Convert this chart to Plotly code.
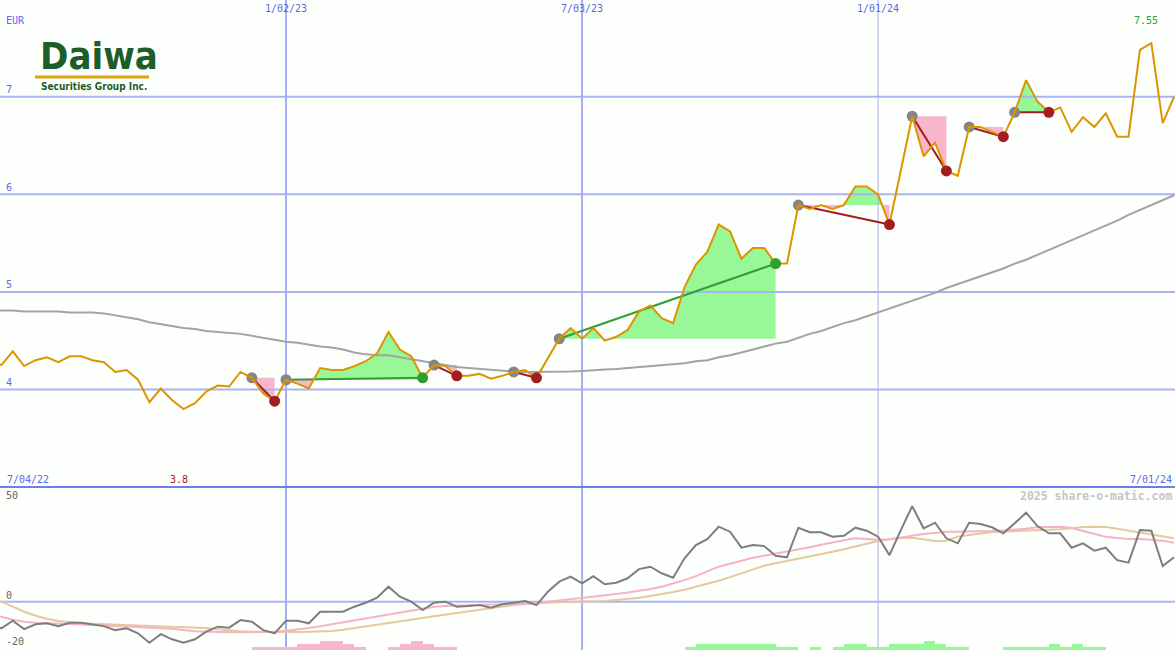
import pandas as pd
import plotly.graph_objects as go

# ---------------- data ----------------
dates = pd.date_range("2022-07-04", periods=105, freq="7D")

price = [4.30, 4.25, 4.39, 4.24, 4.30, 4.33, 4.28, 4.34, 4.34, 4.30,
         4.28, 4.18, 4.20, 4.10, 3.87, 4.01, 3.89, 3.80, 3.86, 3.98,
         4.04, 4.03, 4.18, 4.12, 3.96, 3.88, 4.10, 4.06, 4.01, 4.22,
         4.20, 4.20, 4.24, 4.29, 4.37, 4.59, 4.41, 4.34, 4.12, 4.25,
         4.24, 4.14, 4.14, 4.16, 4.11, 4.14, 4.18, 4.20, 4.12, 4.32,
         4.52, 4.63, 4.52, 4.63, 4.50, 4.54, 4.61, 4.80, 4.86, 4.73,
         4.68, 5.05, 5.28, 5.41, 5.69, 5.62, 5.34, 5.45, 5.45, 5.29,
         5.29, 5.89, 5.85, 5.89, 5.85, 5.89, 6.08, 6.08, 6.00, 5.69,
         6.24, 6.80, 6.39, 6.53, 6.24, 6.19, 6.69, 6.69, 6.64, 6.59,
         6.84, 7.17, 6.95, 6.84, 6.89, 6.64, 6.79, 6.69, 6.83, 6.59,
         6.59, 7.48, 7.55, 6.73, 7.00]

moving_avg = [4.81, 4.81, 4.81, 4.80, 4.80, 4.80, 4.80, 4.79, 4.79, 4.79,
              4.78, 4.76, 4.74, 4.72, 4.69, 4.67, 4.65, 4.63, 4.62, 4.60,
              4.59, 4.58, 4.57, 4.55, 4.53, 4.51, 4.49, 4.48, 4.46, 4.44,
              4.43, 4.41, 4.38, 4.36, 4.35, 4.35, 4.33, 4.31, 4.29, 4.27,
              4.25, 4.23, 4.22, 4.21, 4.20, 4.19, 4.185, 4.18, 4.18, 4.18,
              4.18, 4.185, 4.19, 4.20, 4.205, 4.21, 4.22, 4.23, 4.235, 4.245,
              4.26, 4.27, 4.29, 4.30, 4.33, 4.35, 4.38, 4.41, 4.44, 4.47,
              4.49, 4.53, 4.57, 4.60, 4.64, 4.68, 4.71, 4.75, 4.79, 4.83,
              4.87, 4.91, 4.95, 4.99, 5.04, 5.08, 5.12, 5.16, 5.20, 5.24,
              5.29, 5.33, 5.38, 5.43, 5.48, 5.53, 5.58, 5.63, 5.68, 5.73,
              5.79, 5.84, 5.89, 5.94, 5.99]

oscillator = [-11.0, -13.3, -9.5, -13.7, -11.3, -10.8, -12.2, -10.5, -10.5, -11.3,
              -12.2, -14.2, -13.3, -15.8, -20.5, -16.2, -18.8, -20.5, -18.8, -15.0,
              -12.5, -13.0, -9.2, -10.0, -14.2, -15.8, -9.5, -9.5, -10.8, -5.0,
              -5.0, -5.0, -2.5, -0.5, 2.0, 7.5, 2.5, 0.0, -4.2, -0.5,
              0.0, -2.5, -2.2, -1.7, -3.0, -1.3, -0.5, 0.3, -1.7, 5.0,
              10.0, 12.5, 9.2, 12.8, 8.7, 9.5, 11.7, 16.3, 17.5, 14.2,
              12.0, 21.7, 28.3, 31.3, 37.5, 35.0, 27.0, 28.3, 27.8, 23.0,
              22.2, 37.0, 34.7, 34.7, 32.5, 33.0, 37.0, 35.5, 32.5, 23.3,
              35.8, 47.8, 36.7, 39.5, 31.7, 29.2, 39.5, 38.8, 37.2, 34.2,
              39.2, 44.5, 37.8, 34.2, 34.2, 27.0, 29.2, 25.5, 27.0, 20.8,
              19.5, 35.8, 35.5, 17.8, 22.2]

signal_fast = [-7.0, -7.5, -9.0, -10.0, -10.5, -10.8, -11.0, -11.2, -11.4, -11.6,
               -11.8, -12.0, -12.3, -12.7, -13.0, -13.2, -13.5, -14.2, -14.8, -15.0,
               -15.2, -15.3, -15.3, -15.2, -15.1, -15.0, -14.5, -14.0, -13.2, -12.3,
               -11.3, -10.4, -9.5, -8.4, -7.5, -6.5, -5.5, -4.5, -3.5, -2.5,
               -2.2, -2.0, -1.7, -1.5, -1.3, -1.2, -1.0, -0.9, -0.8, 0.0,
               0.6, 1.2, 1.8, 2.5, 3.2, 3.9, 4.6, 5.4, 6.3, 7.5,
               9.0, 10.8, 12.8, 15.0, 17.5, 19.0, 20.5, 22.0, 23.0, 24.0,
               25.0, 26.0, 27.2, 28.5, 29.7, 30.7, 31.7, 31.5, 31.0, 31.2,
               32.2, 33.0, 33.8, 34.5, 35.0, 35.0, 35.0, 35.0, 35.3, 35.6,
               35.9, 36.5, 37.2, 37.5, 37.5, 36.8, 35.3, 34.0, 32.5, 31.8,
               31.3, 31.3, 31.0, 30.5, 29.5]

signal_slow = [1.0, 0.0, -2.5, -5.0, -7.0, -8.5, -9.6, -10.2, -10.7, -11.0,
               -11.3, -11.5, -11.7, -11.9, -12.1, -12.3, -12.5, -12.7, -12.8, -13.2,
               -13.8, -14.4, -14.8, -15.0, -15.1, -15.2, -15.2, -15.1, -15.0, -14.9,
               -14.6, -14.0, -13.2, -12.5, -11.7, -10.8, -10.0, -9.2, -8.2, -7.3,
               -6.5, -5.6, -4.8, -3.9, -3.0, -2.2, -1.6, -1.1, -0.7, -0.4,
               -0.2, 0.0, 0.0, 0.0, 0.3, 0.8, 1.3, 2.0, 2.8, 3.7,
               4.8, 6.0, 7.4, 9.0, 10.5, 12.3, 14.2, 16.3, 18.0, 19.2,
               20.3, 21.5, 22.6, 23.8, 25.0, 26.2, 27.6, 29.0, 30.3, 31.2,
               31.8, 32.0, 31.3, 30.3, 30.5, 32.5, 33.3, 34.2, 34.8, 35.1,
               35.4, 35.6, 35.8, 36.0, 36.2, 36.8, 37.3, 37.5, 37.3, 36.5,
               35.5, 34.5, 33.5, 32.6, 31.7]

# trend strength histogram: positive = up (green), negative = down (pink)
trend_hist = [0, 0, 0, 0, 0, 0, 0, 0, 0, 0,
              0, 0, 0, 0, 0, 0, 0, 0, 0, 0,
              0, 0, 0, -1, -1, -1, -1, -2, -2, -3,
              -3, -2, -1, 0, 0, -1, -2, -3, -2, -1,
              -1, 0, 0, 0, 0, 0, 0, 0, 0, 0,
              0, 0, 0, 0, 0, 0, 0, 0, 0, 0,
              0, 1, 2, 2, 2, 2, 2, 2, 2, 1,
              1, 0, 1, 0, 1, 2, 2, 1, 1, 2,
              2, 2, 3, 2, 1, 1, 0, 0, 0, 1,
              1, 1, 1, 2, 1, 2, 1, 1, 0, 0,
              0, 0, 0, 0, 0]

# trend patterns: (start week index, end week index, direction)
pattern_start = [23, 26, 39, 46, 50, 71, 81, 86, 90]
pattern_end = [25, 38, 41, 48, 69, 79, 84, 89, 93]
pattern_dir = ["down", "up", "down", "down", "up", "down", "down", "down", "down"]

price_ticks = [4, 5, 6, 7]
osc_ticks = [50, 0, -20]
grid_dates = ["2023-01-02", "2023-07-03", "2024-01-01"]
currency = "EUR"

# ---------------- styling ----------------
W, H = 1175, 650
BG = "#fdfffd"
GRID = "#a8b4f2"
BLUE_TXT = "#5a6ae6"
GREEN_FILL = "#98f898"
PINK_FILL = "#f8b6cc"
UP = "#2f9f2f"
DOWN = "#a31f1f"
ORANGE = "#de9400"
MONO = "DejaVu Sans Mono, monospace"
NARROW = "Liberation Sans Narrow, DejaVu Sans Condensed, Arial Narrow, sans-serif"

week = pd.Timedelta(days=7)
x_range = [dates[0] + 0.878 * week, dates[0] + 104.08 * week]
split = 163 / H
price_range = [3.001, 7.991]
osc_range = [-24.15, 57.35]


def fmt_date(d):
    d = pd.Timestamp(d)
    return f"{d.month}/{d.day:02d}/{d.year % 100:02d}"


fig = go.Figure()


def add(tr, lower=False):
    if lower:
        tr.update(xaxis="x2", yaxis="y2")
    fig.add_trace(tr)


# ---- fills of trend patterns ----
for s, e in zip(pattern_start, pattern_end):
    lvl = price[s]
    pts = []
    for i in range(s, e):
        p0, p1 = price[i], price[i + 1]
        pts.append((dates[i], p0))
        if (p0 - lvl) * (p1 - lvl) < 0:
            f = (lvl - p0) / (p1 - p0)
            pts.append((dates[i] + f * week, lvl))
    pts.append((dates[e], price[e]))
    tx = [q[0] for q in pts]
    up = [max(q[1], lvl) for q in pts]
    dn = [min(q[1], lvl) for q in pts]
    for ys, col in ((up, GREEN_FILL), (dn, PINK_FILL)):
        add(go.Scatter(x=[tx[0], tx[-1]], y=[lvl, lvl], mode="lines",
                       line=dict(width=0), hoverinfo="skip", showlegend=False))
        add(go.Scatter(x=tx, y=ys, mode="lines", line=dict(width=0),
                       fill="tonexty", fillcolor=col, hoverinfo="skip", showlegend=False))

# ---- grid lines (drawn above fills) ----
for v in price_ticks:
    add(go.Scatter(x=x_range, y=[v, v], mode="lines",
                   line=dict(color=GRID, width=2), hoverinfo="skip", showlegend=False))
add(go.Scatter(x=x_range, y=[0, 0], mode="lines",
               line=dict(color=GRID, width=2), hoverinfo="skip", showlegend=False), lower=True)
for k, d in enumerate(grid_dates):
    wv = 2 if k < 2 else 1
    cv = "#a4aef4" if k < 2 else "#a8b0dc"
    add(go.Scatter(x=[d, d], y=price_range, mode="lines",
                   line=dict(color=cv, width=wv), hoverinfo="skip", showlegend=False))
    add(go.Scatter(x=[d, d], y=osc_range, mode="lines",
                   line=dict(color=cv, width=wv), hoverinfo="skip", showlegend=False), lower=True)

# ---- moving average ----
add(go.Scatter(x=dates, y=moving_avg, mode="lines",
               line=dict(color="#a3a3a3", width=2), hoverinfo="skip", showlegend=False))

# ---- trend lines ----
for s, e, dr in zip(pattern_start, pattern_end, pattern_dir):
    add(go.Scatter(x=[dates[s], dates[e]], y=[price[s], price[e]], mode="lines",
                   line=dict(color=UP if dr == "up" else DOWN, width=2),
                   hoverinfo="skip", showlegend=False))

# start dots
add(go.Scatter(x=[dates[s] for s in pattern_start], y=[price[s] for s in pattern_start],
               mode="markers", marker=dict(color="#858585", size=11),
               hoverinfo="skip", showlegend=False))

# ---- price ----
add(go.Scatter(x=dates, y=price, mode="lines",
               line=dict(color=ORANGE, width=2), hoverinfo="skip", showlegend=False))

# end dots
add(go.Scatter(x=[dates[e] for e in pattern_end], y=[price[e] for e in pattern_end],
               mode="markers",
               marker=dict(color=[UP if d == "up" else DOWN for d in pattern_dir], size=11),
               hoverinfo="skip", showlegend=False))

# ---- lower panel ----
add(go.Bar(x=dates, y=[abs(v) for v in trend_hist], base=0, offset=0,
           width=week.total_seconds() * 1000,
           marker=dict(color=[GREEN_FILL if v > 0 else PINK_FILL for v in trend_hist],
                       line=dict(width=0)),
           xaxis="x2", yaxis="y3", hoverinfo="skip", showlegend=False))
add(go.Scatter(x=dates, y=signal_slow, mode="lines",
               line=dict(color="#e3c99c", width=2), hoverinfo="skip", showlegend=False), lower=True)
add(go.Scatter(x=dates, y=signal_fast, mode="lines",
               line=dict(color="#f7b2c8", width=2), hoverinfo="skip", showlegend=False), lower=True)
add(go.Scatter(x=dates, y=oscillator, mode="lines",
               line=dict(color="#7e7e7e", width=2), hoverinfo="skip", showlegend=False), lower=True)

# ---------------- annotations ----------------
ann = []


def text(x, y, s, color, size=10, xanchor="left", xref="paper", yref="paper",
         yshift=0, xshift=0, family=MONO, yanchor="middle"):
    ann.append(dict(x=x, y=y, xref=xref, yref=yref, text=s, showarrow=False,
                    xanchor=xanchor, yanchor=yanchor, xshift=xshift, yshift=yshift,
                    font=dict(family=family, size=size, color=color)))


text(4 / W, 1 - 21 / H, currency, BLUE_TXT)
for v in price_ticks:
    text(4 / W, v, str(v), BLUE_TXT, yref="y", yshift=7)
for v in osc_ticks:
    text(4 / W, v, str(v), "#666666", yref="y2", yshift=6 if v >= 0 else 0)
for d in grid_dates:
    text(d, 1 - 8 / H, fmt_date(d), BLUE_TXT, xanchor="center", xref="x")
text(5 / W, split + 8 / H, fmt_date(dates[0]), BLUE_TXT)
text(1174 / W, split + 8 / H, fmt_date(dates[-1]), BLUE_TXT, xanchor="right")
imin = price.index(min(price))
imax = price.index(max(price))
text(dates[imin], split + 8 / H, f"{price[imin]:.1f}", "#a51c1c", xanchor="center",
     xref="x", xshift=-5)
text(dates[imax], 1 - 21 / H, f"{price[imax]:.2f}", "#2f9f2f", xanchor="center",
     xref="x", xshift=-5)
text(1174 / W, split - 9 / H, "<b>2025 share-o-matic.com</b>", "#c6c6c6", size=11.5,
     xanchor="right")

# logo
text(38 / W, 1 - 56 / H, "<b>Daiwa</b>", "#1d5c2b", size=38, family=NARROW)
text(39 / W, 1 - 86 / H, "<b>Securities Group Inc.</b>", "#1d5c2b", size=10, family=NARROW)

shapes = [
    dict(type="line", xref="paper", yref="paper", x0=35 / W, x1=149 / W,
         y0=1 - 77 / H, y1=1 - 77 / H, line=dict(color="#e0a010", width=3)),
    dict(type="line", xref="paper", yref="paper", x0=0, x1=1, y0=split, y1=split,
         line=dict(color="#6e7ee8", width=2)),
]

fig.update_layout(
    width=W, height=H, margin=dict(l=0, r=0, t=0, b=0),
    paper_bgcolor=BG, plot_bgcolor=BG, showlegend=False, bargap=0,
    xaxis=dict(domain=[0, 1], range=x_range, type="date", showgrid=False,
               showticklabels=False, zeroline=False, anchor="y"),
    xaxis2=dict(domain=[0, 1], range=x_range, type="date", showgrid=False,
                showticklabels=False, zeroline=False, anchor="y2", matches="x"),
    yaxis=dict(domain=[split, 1], range=price_range, showgrid=False,
               showticklabels=False, zeroline=False),
    yaxis2=dict(domain=[0, split], range=osc_range, showgrid=False,
                showticklabels=False, zeroline=False),
    yaxis3=dict(range=[0, 52], overlaying="y2", showgrid=False,
                showticklabels=False, zeroline=False),
    annotations=ann, shapes=shapes,
)

fig.write_html("out.html", config={"displayModeBar": False},
               post_script="document.body.style.margin='0';")
